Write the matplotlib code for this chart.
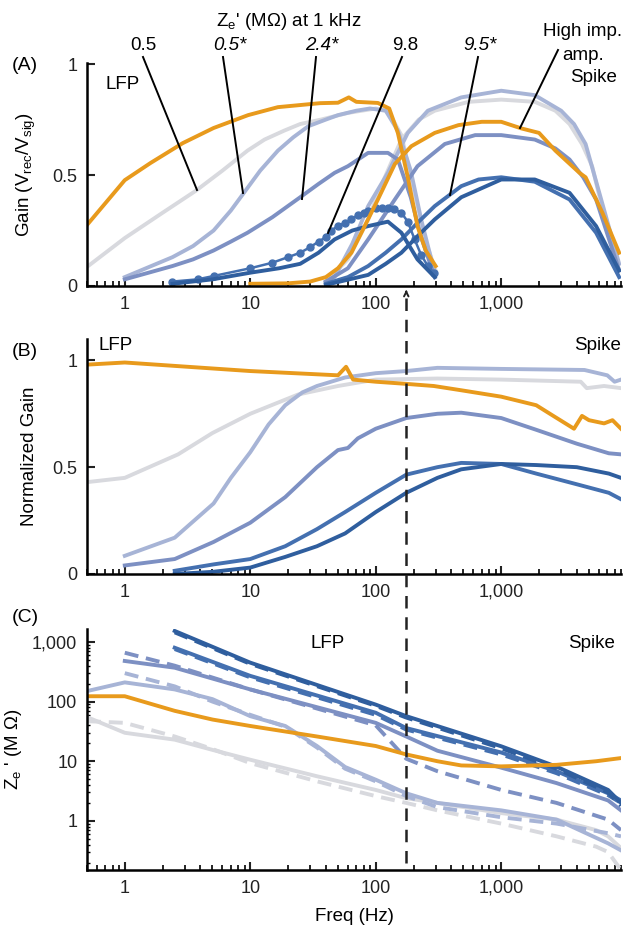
import numpy as np
import matplotlib
matplotlib.use('Agg')
import matplotlib.pyplot as plt
from matplotlib.ticker import FixedLocator, LogLocator, FuncFormatter, NullFormatter
from matplotlib.lines import Line2D
from matplotlib import transforms

plt.rcParams['font.family'] = ['Liberation Sans', 'DejaVu Sans']
plt.rcParams['font.size'] = 13
plt.rcParams['lines.solid_joinstyle'] = 'round'
plt.rcParams['lines.dash_capstyle'] = 'butt'

ORANGE = '#E89A1C'
GRAY = '#D8D9DE'
LBLUE = '#A7B4D6'
MBLUE = '#7D90C3'
DBLUE = '#4470B0'
DDBLUE = '#2F5E9E'

# ---------------- panel A : gain ----------------
# LFP band
a_or_lfp_f = [0.5, 1, 1.6, 2.9, 5.1, 9.6, 16.6, 36, 50, 61, 70, 104, 128, 150, 180, 215, 250, 300]
a_or_lfp_g = [0.275, 0.477, 0.554, 0.644, 0.712, 0.77, 0.806, 0.824, 0.826, 0.85, 0.83, 0.825, 0.80, 0.69, 0.49, 0.27, 0.16, 0.09]
a_gr_lfp_f = [0.5, 1, 2, 3.7, 6, 9.5, 13, 18.6, 25, 36.6, 60, 100, 125, 160, 200, 250, 300]
a_gr_lfp_g = [0.086, 0.216, 0.33, 0.43, 0.52, 0.61, 0.66, 0.70, 0.73, 0.75, 0.78, 0.80, 0.79, 0.68, 0.44, 0.20, 0.07]
a_lb_lfp_f = [1, 2.4, 3.5, 5.1, 7, 8.9, 12, 16.6, 22, 29, 40, 50, 70, 90, 120, 150, 190, 230, 295]
a_lb_lfp_g = [0.04, 0.13, 0.18, 0.25, 0.34, 0.42, 0.52, 0.61, 0.67, 0.72, 0.75, 0.77, 0.79, 0.80, 0.79, 0.70, 0.52, 0.30, 0.06]
a_mb_lfp_f = [1, 2.4, 3.5, 5.1, 7, 9.5, 15, 25, 35, 47, 60, 87, 125, 150, 190, 230, 295]
a_mb_lfp_g = [0.03, 0.09, 0.12, 0.16, 0.20, 0.24, 0.31, 0.40, 0.46, 0.51, 0.54, 0.60, 0.60, 0.57, 0.40, 0.22, 0.04]
a_db_lfp_f = [2.4, 3.8, 5.1, 10, 15, 20, 25, 30, 35, 40, 44, 50, 57, 64, 72, 80, 87, 100, 112, 125, 140, 160, 180, 204, 230, 260, 290]
a_db_lfp_g = [0.02, 0.03, 0.045, 0.08, 0.105, 0.13, 0.15, 0.175, 0.20, 0.22, 0.25, 0.27, 0.285, 0.30, 0.32, 0.33, 0.34, 0.35, 0.35, 0.35, 0.345, 0.33, 0.29, 0.21, 0.14, 0.09, 0.06]
a_dd_lfp_f = [2.4, 5, 10, 17, 25, 35, 47, 65, 87, 125, 160, 215, 295]
a_dd_lfp_g = [0.01, 0.03, 0.06, 0.08, 0.10, 0.15, 0.21, 0.25, 0.27, 0.29, 0.24, 0.12, 0.04]
# spike band
a_or_spk_f = [10, 20, 30, 40, 50, 64, 80, 104, 142, 192, 295, 456, 700, 1000, 1450, 2000, 2700, 4200, 4700, 6400, 8700]
a_or_spk_g = [0.01, 0.012, 0.02, 0.04, 0.08, 0.15, 0.26, 0.39, 0.55, 0.63, 0.69, 0.725, 0.74, 0.74, 0.71, 0.69, 0.61, 0.51, 0.49, 0.33, 0.15]
a_gr_spk_f = [40, 60, 87, 110, 160, 220, 295, 550, 1000, 1850, 2700, 3500, 4400, 5300, 6900, 8700]
a_gr_spk_g = [0.02, 0.12, 0.30, 0.45, 0.66, 0.75, 0.79, 0.83, 0.84, 0.83, 0.79, 0.73, 0.64, 0.54, 0.27, 0.07]
a_lb_spk_f = [40, 47, 65, 87, 125, 180, 260, 480, 1000, 1850, 3000, 3800, 4700, 6700, 8700]
a_lb_spk_g = [0.02, 0.04, 0.19, 0.36, 0.51, 0.69, 0.79, 0.85, 0.88, 0.86, 0.79, 0.73, 0.64, 0.33, 0.10]
a_mb_spk_f = [40, 60, 87, 142, 215, 355, 620, 1000, 1850, 2700, 3500, 4500, 5700, 8700]
a_mb_spk_g = [0.02, 0.08, 0.21, 0.39, 0.54, 0.64, 0.68, 0.68, 0.66, 0.62, 0.57, 0.49, 0.39, 0.07]
a_db_spk_f = [40, 60, 87, 120, 160, 220, 295, 480, 660, 1000, 1850, 3500, 5700, 8700]
a_db_spk_g = [0.01, 0.04, 0.09, 0.15, 0.21, 0.29, 0.36, 0.45, 0.48, 0.49, 0.47, 0.39, 0.24, 0.04]
a_dd_spk_f = [40, 87, 120, 160, 220, 295, 480, 1000, 1850, 3500, 5700, 8700]
a_dd_spk_g = [0.005, 0.05, 0.10, 0.15, 0.23, 0.30, 0.40, 0.48, 0.48, 0.42, 0.27, 0.07]

# ---------------- panel B : normalized gain ----------------
b_or_f = [0.5, 1, 10, 50, 58, 66, 100, 175, 290, 480, 1000, 1900, 2600, 3800, 4400, 5000, 6600, 7700, 9000]
b_or_g = [0.98, 0.99, 0.95, 0.93, 0.97, 0.91, 0.90, 0.89, 0.88, 0.86, 0.83, 0.79, 0.74, 0.68, 0.74, 0.72, 0.705, 0.72, 0.68]
b_gr_f = [0.5, 1, 2.66, 5, 10, 24, 50, 100, 310, 1000, 4300, 4800, 6600, 9000]
b_gr_g = [0.43, 0.45, 0.56, 0.66, 0.75, 0.84, 0.88, 0.91, 0.915, 0.91, 0.90, 0.87, 0.88, 0.87]
b_lb_f = [1, 2.5, 5.1, 7, 10, 14, 19, 26, 34, 57, 100, 175, 310, 1000, 4600, 7000, 8000, 9000]
b_lb_g = [0.085, 0.17, 0.33, 0.45, 0.57, 0.70, 0.79, 0.85, 0.88, 0.92, 0.94, 0.95, 0.965, 0.96, 0.955, 0.93, 0.90, 0.91]
b_mb_f = [1, 2.5, 5.1, 10, 19, 34, 50, 60, 72, 100, 175, 310, 480, 1000, 1900, 4000, 7200, 9000]
b_mb_g = [0.04, 0.07, 0.15, 0.24, 0.36, 0.50, 0.58, 0.59, 0.635, 0.68, 0.73, 0.75, 0.755, 0.73, 0.675, 0.61, 0.565, 0.56]
b_db_f = [2.5, 5.1, 10, 19, 34, 57, 100, 175, 310, 480, 1000, 1900, 4000, 7200, 9000]
b_db_g = [0.015, 0.045, 0.07, 0.13, 0.21, 0.29, 0.38, 0.465, 0.50, 0.52, 0.515, 0.47, 0.42, 0.38, 0.35]
b_dd_f = [2.5, 5, 10, 19, 34, 57, 100, 175, 310, 480, 1000, 1900, 4000, 7200, 9000]
b_dd_g = [0.0, 0.01, 0.03, 0.08, 0.13, 0.19, 0.29, 0.38, 0.45, 0.49, 0.515, 0.51, 0.50, 0.47, 0.45]

# ---------------- panel C : impedance (MOhm) ----------------
c_or_f = [0.5, 1, 2.5, 5, 10, 34, 100, 175, 310, 480, 1000, 2760, 5700, 9000]
c_or_z = [123, 123, 70, 50, 39, 26, 18, 13, 10, 8.5, 8.2, 8.7, 10, 11.3]
c_gr_f = [0.5, 1, 2.5, 5, 10, 34, 100, 175, 310, 1000, 2760, 5700, 7100, 9000]
c_gr_z = [55, 30, 23, 15.5, 10.6, 5.6, 3.3, 2.4, 2.0, 1.35, 1.05, 0.7, 0.55, 0.35]
c_gr_dz = [47, 44, 26, 16, 9.3, 4.6, 2.6, 2.0, 1.5, 0.9, 0.55, 0.37, 0.30, 0.15]
c_lb_f = [0.5, 1, 2.5, 5, 10, 19, 34, 57, 100, 175, 310, 1000, 2760, 7100, 9000]
c_lb_z = [150, 210, 160, 110, 57, 39, 18, 8, 4.9, 2.9, 2.0, 1.5, 1.05, 0.42, 0.32]
c_lb_dz = [None, 300, 180, 100, 60, 38, 17, 7.5, 4.6, 2.6, 1.7, 1.15, 0.9, 0.62, 0.55]
c_mb_f = [1, 2.5, 10, 100, 175, 310, 1000, 2760, 7100, 9000]
c_mb_z = [480, 370, 160, 44, 26, 15, 7.8, 4.3, 2.2, 1.5]
c_mb_dz = [660, 400, 160, 40, 11, 6.8, 3.3, 2.0, 1.05, 0.7]
c_db_f = [2.5, 10, 100, 175, 1000, 2760, 7100, 9000]
c_db_z = [1530, 450, 89, 57, 17.8, 8.1, 3.3, 2.0]
c_db_dz = [1450, 430, 85, 54, 16.5, 7.5, 3.0, 1.8]
c_dd_z = [800, 270, 65, 36, 14, 6.8, 2.9, 2.2]
c_dd_dz = [760, 255, 60, 34, 13, 6.3, 2.7, 2.0]

fig = plt.figure(figsize=(6.23, 9.34), dpi=100)
L, W = 87 / 623, 534 / 623
axA = fig.add_axes([L, 1 - 286 / 934, W, 223 / 934])
axB = fig.add_axes([L, 1 - 574 / 934, W, 235 / 934])
axC = fig.add_axes([L, 1 - 870 / 934, W, 241 / 934])

LW = 2.8
FS = 13.5


def style(ax):
    ax.set_xscale('log')
    ax.set_xlim(0.5, 9000)
    for s in ['top', 'right']:
        ax.spines[s].set_visible(False)
    for s in ['left', 'bottom']:
        ax.spines[s].set_linewidth(1.8)
    ax.xaxis.set_major_locator(FixedLocator([1, 10, 100, 1000]))
    ax.xaxis.set_minor_locator(LogLocator(base=10, subs=np.arange(2, 10), numticks=20))
    ax.xaxis.set_major_formatter(FuncFormatter(lambda v, p: f'{v:,.0f}'))
    ax.xaxis.set_minor_formatter(NullFormatter())
    ax.tick_params(axis='both', which='major', direction='in', length=6, width=1.5,
                   labelsize=13, pad=7, colors='#222222')
    ax.tick_params(axis='both', which='minor', direction='in', length=3.5, width=1.2)


for ax in (axA, axB, axC):
    style(ax)

# panel A
axA.plot(a_gr_lfp_f, a_gr_lfp_g, color=GRAY, lw=LW)
axA.plot(a_gr_spk_f, a_gr_spk_g, color=GRAY, lw=LW)
axA.plot(a_lb_lfp_f, a_lb_lfp_g, color=LBLUE, lw=LW)
axA.plot(a_lb_spk_f, a_lb_spk_g, color=LBLUE, lw=LW)
axA.plot(a_mb_lfp_f, a_mb_lfp_g, color=MBLUE, lw=LW)
axA.plot(a_mb_spk_f, a_mb_spk_g, color=MBLUE, lw=LW)
axA.plot(a_db_lfp_f, a_db_lfp_g, color=DBLUE, lw=1.8, marker='o', ms=5)
axA.plot(a_db_spk_f, a_db_spk_g, color=DBLUE, lw=LW)
axA.plot(a_dd_lfp_f, a_dd_lfp_g, color=DDBLUE, lw=LW)
axA.plot(a_dd_spk_f, a_dd_spk_g, color=DDBLUE, lw=LW)
axA.plot(a_or_lfp_f, a_or_lfp_g, color=ORANGE, lw=LW)
axA.plot(a_or_spk_f, a_or_spk_g, color=ORANGE, lw=LW)
axA.set_ylim(0, 1.005)
axA.set_yticks([0, 0.5, 1])
axA.set_yticklabels(['0', '0.5', '1'])
axA.set_ylabel('Gain (V$_{\\mathregular{rec}}$/V$_{\\mathregular{sig}}$)', fontsize=FS, labelpad=10)

# panel B
axB.plot(b_gr_f, b_gr_g, color=GRAY, lw=LW)
axB.plot(b_lb_f, b_lb_g, color=LBLUE, lw=LW)
axB.plot(b_mb_f, b_mb_g, color=MBLUE, lw=LW)
axB.plot(b_db_f, b_db_g, color=DBLUE, lw=LW)
axB.plot(b_dd_f, b_dd_g, color=DDBLUE, lw=LW)
axB.plot(b_or_f, b_or_g, color=ORANGE, lw=LW)
axB.set_ylim(0, 1.1)
axB.set_yticks([0, 0.5, 1])
axB.set_yticklabels(['0', '0.5', '1'])
axB.set_ylabel('Normalized Gain', fontsize=FS, labelpad=10)

# panel C
DASH = (0, (3.6, 2.0))
axC.plot(c_gr_f, c_gr_dz, color=GRAY, lw=LW, ls=DASH)
axC.plot(c_gr_f, c_gr_z, color=GRAY, lw=LW)
lb_f = [f for f, z in zip(c_lb_f, c_lb_dz) if z is not None]
lb_dz = [z for z in c_lb_dz if z is not None]
axC.plot(lb_f, lb_dz, color=LBLUE, lw=LW, ls=DASH)
axC.plot(c_lb_f, c_lb_z, color=LBLUE, lw=LW)
axC.plot(c_mb_f, c_mb_dz, color=MBLUE, lw=LW, ls=DASH)
axC.plot(c_mb_f, c_mb_z, color=MBLUE, lw=LW)
axC.plot(c_db_f, c_dd_dz, color=DBLUE, lw=LW, ls=DASH)
axC.plot(c_db_f, c_dd_z, color=DBLUE, lw=LW)
axC.plot(c_db_f, c_db_dz, color=DDBLUE, lw=LW, ls=DASH)
axC.plot(c_db_f, c_db_z, color=DDBLUE, lw=LW)
axC.plot(c_or_f, c_or_z, color=ORANGE, lw=LW)
axC.set_yscale('log')
axC.set_ylim(0.15, 1650)
axC.yaxis.set_major_locator(FixedLocator([1, 10, 100, 1000]))
axC.yaxis.set_minor_locator(LogLocator(base=10, subs=np.arange(2, 10), numticks=20))
axC.yaxis.set_major_formatter(FuncFormatter(lambda v, p: f'{v:,.0f}'))
axC.yaxis.set_minor_formatter(NullFormatter())
axC.tick_params(axis='y', which='minor', length=2, width=1)
axC.set_ylabel("Z$_{\\mathregular{e}}$ ' (M \u03a9)", fontsize=FS, labelpad=6)
axC.set_xlabel('Freq (Hz)', fontsize=FS, labelpad=8)

# band labels
axA.text(0.7, 0.91, 'LFP', fontsize=FS, va='center')
axB.text(0.62, 1.07, 'LFP', fontsize=FS, va='center')
axB.text(9000, 1.07, 'Spike', fontsize=FS, va='center', ha='right')
axC.text(30, 950, 'LFP', fontsize=FS, va='center')
axC.text(8100, 950, 'Spike', fontsize=FS, va='center', ha='right')

# panel letters
fig.text(12 / 623, 1 - 66 / 934, '(A)', fontsize=14, va='center')
fig.text(12 / 623, 1 - 352 / 934, '(B)', fontsize=14, va='center')
fig.text(12 / 623, 1 - 618 / 934, '(C)', fontsize=14, va='center')

# electrode annotations (figure pixel coordinates -> fraction)
def fp(x, y):
    return (x / 623, 1 - y / 934)

fig.text(*fp(289, 22), "Z$_{\\mathregular{e}}$' (M\u03a9) at 1 kHz", fontsize=FS, ha='center', va='center')
notes = [
    ('0.5', 'normal', (143, 46), (143, 57), (197, 190)),
    ('0.5*', 'italic', (230, 46), (223, 57), (243, 193)),
    ('2.4*', 'italic', (322, 46), (316, 57), (302, 199)),
    ('9.8', 'normal', (405, 46), (402, 57), (328, 233)),
    ('9.5*', 'italic', (480, 46), (478, 57), (450, 195)),
]
for txt, st, tp, p0, p1 in notes:
    fig.text(*fp(*tp), txt, fontsize=FS, style=st, ha='center', va='center')
    fig.add_artist(Line2D([p0[0] / 623, p1[0] / 623], [1 - p0[1] / 934, 1 - p1[1] / 934],
                          color='black', lw=1.4))
fig.text(*fp(622, 32), 'High imp.', fontsize=FS, ha='right', va='center')
fig.text(*fp(583, 56), 'amp.', fontsize=FS, ha='center', va='center')
fig.text(*fp(594, 78), 'Spike', fontsize=FS, ha='center', va='center')
fig.add_artist(Line2D([558 / 623, 520 / 623], [1 - 50 / 934, 1 - 128 / 934], color='black', lw=1.4))

# cut-off marker running through panels
cut = 175
tr = transforms.blended_transform_factory(axA.transData, fig.transFigure)
fig.add_artist(Line2D([cut, cut], [1 - 298 / 934, 1 - 870 / 934], transform=tr,
                      color='#222222', lw=1.8, ls=(0, (5, 3.5))))
axA.annotate('', xy=(cut, 1 - 287 / 934), xycoords=tr, xytext=(cut, 1 - 296 / 934),
             textcoords=tr, arrowprops=dict(arrowstyle='->', color='#222222', lw=1.4,
                                            mutation_scale=8))

fig.savefig('out.png', dpi=100)
